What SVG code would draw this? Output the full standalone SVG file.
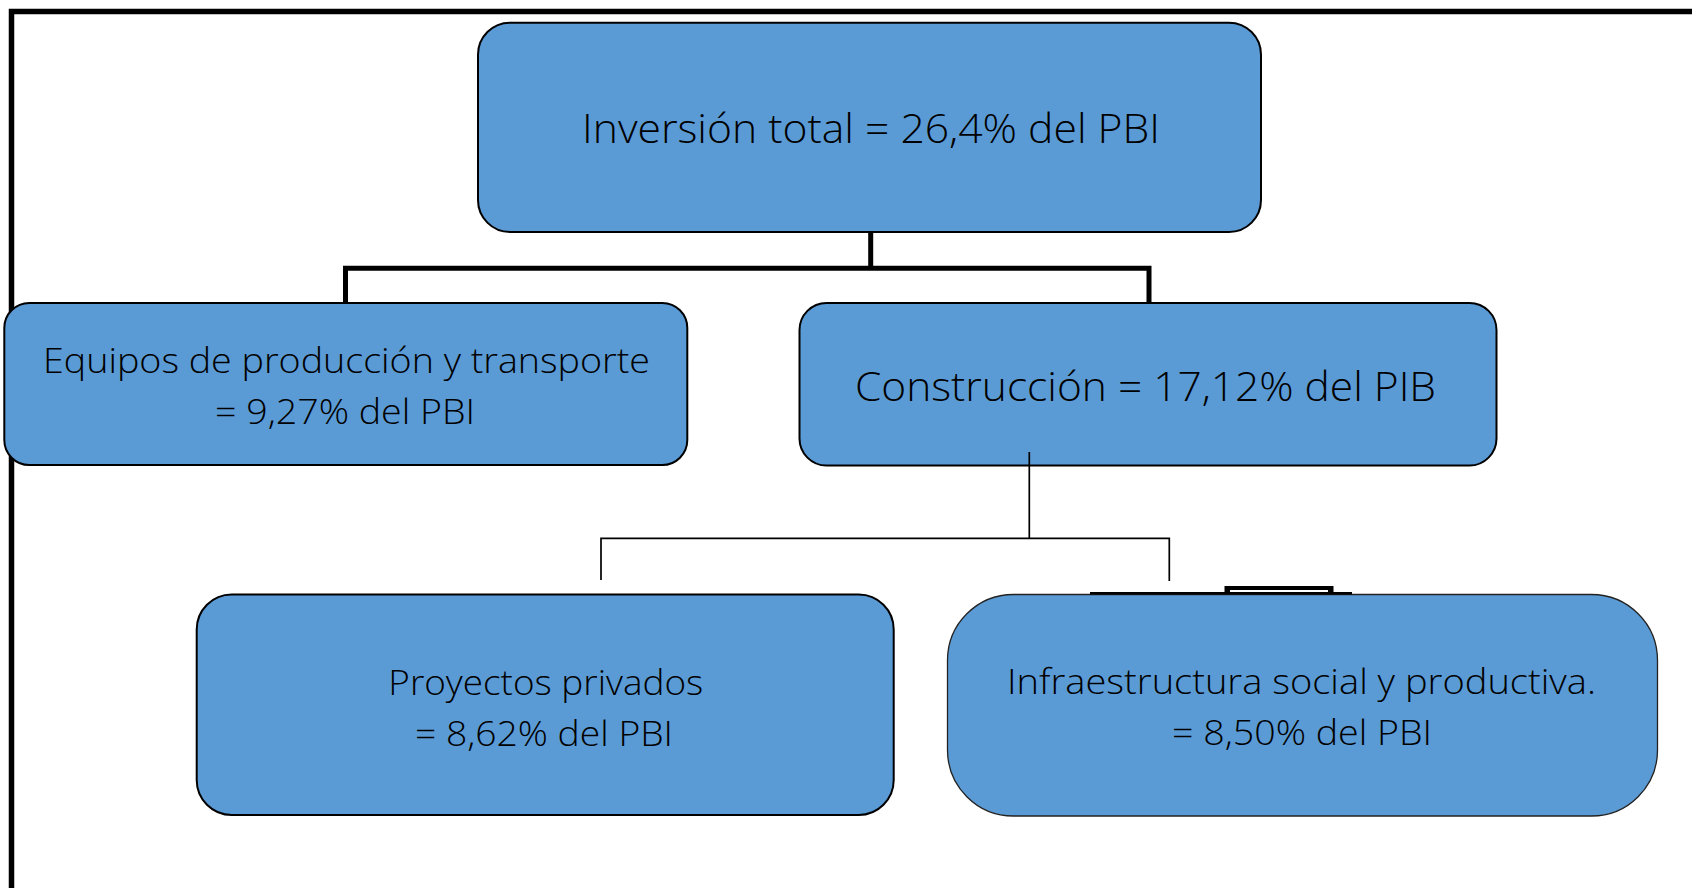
<svg xmlns="http://www.w3.org/2000/svg" width="1692" height="888" viewBox="0 0 1692 888">
<style>
.box{fill:#5B9BD5;stroke:#000;stroke-width:2}
.box2{fill:#5B9BD5;stroke:#222;stroke-width:1.3}
.t{font-family:"Open Sans","Noto Sans","Liberation Sans",sans-serif;font-weight:300;fill:#000;text-anchor:middle}
.big{font-size:41px}
.med{font-size:34px}
.thick{fill:none;stroke:#000;stroke-width:5}
.thin{fill:none;stroke:#000;stroke-width:1.7}
</style>
<rect x="0" y="0" width="1692" height="888" fill="#fff"/>
<g id="frame">
<path d="M11.5 888 V11.5 H1692" fill="none" stroke="#000" stroke-width="5.5"/>
</g>
<g id="node-total">
<rect class="box" x="478" y="22.7" width="783" height="209.3" rx="32"/>
<text class="t big" x="871" y="143" textLength="578" lengthAdjust="spacingAndGlyphs">Inversión total = 26,4% del PBI</text>
</g>
<g id="node-equipos">
<rect class="box" x="4.3" y="303" width="683" height="162" rx="25"/>
<text class="t med" x="346.5" y="373" textLength="607" lengthAdjust="spacingAndGlyphs">Equipos de producción y transporte</text>
<text class="t med" x="345" y="424" textLength="260" lengthAdjust="spacingAndGlyphs">= 9,27% del PBI</text>
</g>
<g id="node-construccion">
<rect class="box" x="799.5" y="303" width="697" height="162.5" rx="27"/>
<text class="t big" x="1145.5" y="401" textLength="581" lengthAdjust="spacingAndGlyphs">Construcción = 17,12% del PIB</text>
</g>
<g id="node-privados">
<rect class="box" x="196.7" y="594.5" width="697" height="220.5" rx="35"/>
<text class="t med" x="545.8" y="695" textLength="315" lengthAdjust="spacingAndGlyphs">Proyectos privados</text>
<text class="t med" x="544" y="746" textLength="258" lengthAdjust="spacingAndGlyphs">= 8,62% del PBI</text>
</g>
<g id="node-infra">
<rect class="box2" x="947.5" y="594.5" width="710" height="221.5" rx="66"/>
<text class="t med" x="1301.5" y="694" textLength="589" lengthAdjust="spacingAndGlyphs">Infraestructura social y productiva.</text>
<text class="t med" x="1302" y="745" textLength="260" lengthAdjust="spacingAndGlyphs">= 8,50% del PBI</text>
</g>
<g id="connectors">
<path class="thick" d="M870.7 233 V268.2 M345.5 302 V268.2 H1149 V302"/>
<path class="thin" d="M1029.3 452 V538.3 M601 580 V538.3 H1169.3 V581"/>
<path d="M1090 593.3 H1352" fill="none" stroke="#000" stroke-width="2.5"/>
<rect x="1224.5" y="586" width="109" height="8" fill="#000"/>
<rect x="1230" y="590" width="98" height="2" fill="#fff"/>
</g>
</svg>
